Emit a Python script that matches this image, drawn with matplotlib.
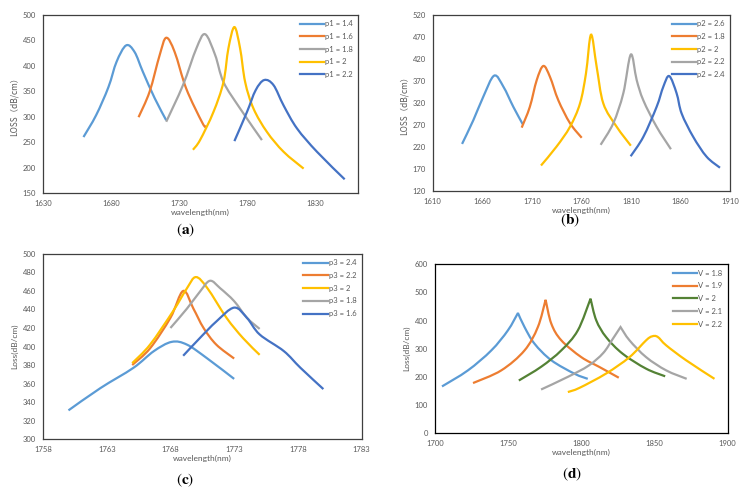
import numpy as np
import matplotlib
matplotlib.use("Agg")
import matplotlib.pyplot as plt
from matplotlib.path import Path
from matplotlib.patches import PathPatch
from matplotlib.lines import Line2D

plt.rcParams['font.family'] = ['Lato', 'Noto Sans CJK SC', 'DejaVu Sans']
plt.rcParams['mathtext.fontset'] = 'stix'

BLUE = "#5B9BD5"
ORANGE = "#ED7D31"
GRAY = "#A5A5A5"
YELLOW = "#FFC000"
DBLUE = "#4472C4"
GREEN = "#548235"

# ---- panel (a): p1 sweep ----
a_labels = ["p1 = 1.4", "p1 = 1.6", "p1 = 1.8", "p1 = 2", "p1 = 2.2"]
a_x = [
    [1659.7, 1669, 1678, 1684, 1691, 1697.2, 1703.3, 1712, 1720.4],
    [1700.1, 1708.2, 1715.6, 1720.4, 1726.6, 1735.1, 1746.9, 1749.6],
    [1720.4, 1732.7, 1742.5, 1748.9, 1756.3, 1762.4, 1774.6, 1790.6],
    [1740, 1745.2, 1755, 1762.4, 1766, 1770.4, 1774.6, 1778.3, 1784.4, 1794.3, 1806.5, 1821.2],
    [1770.4, 1779.6, 1786, 1792.3, 1799.1, 1806.5, 1816.3, 1831, 1851.3],
]
a_y = [
    [260, 303, 358, 408, 440, 427, 388, 336, 293],
    [299, 349, 421, 455, 427, 355, 288, 280],
    [290, 362, 434, 462, 421, 368, 316, 254],
    [235, 254, 309, 368, 434, 476, 434, 368, 316, 270, 231, 198],
    [252, 309, 352, 372, 362, 322, 277, 231, 177],
]

# ---- panel (b): p2 sweep ----
b_labels = ["p2 = 2.6", "p2 = 1.8", "p2 = 2", "p2 = 2.2", "p2 = 2.4"]
b_x = [
    [1639.6, 1651, 1661, 1672, 1681.3, 1691.4, 1700.8],
    [1699.8, 1708, 1715, 1721.7, 1728.4, 1736.8, 1748.6, 1760.4],
    [1719.3, 1735, 1748.6, 1758.7, 1764.7, 1769.8, 1775.5, 1782.2, 1795.7, 1810],
    [1779.5, 1792.3, 1802.4, 1810, 1815.9, 1822.6, 1836, 1850.5],
    [1809.8, 1822.6, 1836, 1842.8, 1848.8, 1856.2, 1861.3, 1873, 1886.5, 1900],
]
b_y = [
    [227, 281, 334, 382, 357, 311, 272],
    [264, 311, 372, 404, 379, 326, 274, 241],
    [178, 221, 266, 319, 387, 475, 402, 319, 266, 223],
    [225, 274, 342, 430, 372, 326, 266, 215],
    [199, 243, 311, 357, 381, 342, 296, 243, 198, 173],
]

# ---- panel (c): p3 sweep ----
c_labels = ["p3 = 2.4", "p3 = 2.2", "p3 = 2", "p3 = 1.8", "p3 = 1.6"]
c_x = [
    [1760, 1762.5, 1765.1, 1766.7, 1768.1, 1769.3, 1770.9, 1773],
    [1765, 1766.4, 1768, 1769, 1769.8, 1770.6, 1771.6, 1773],
    [1765, 1766.4, 1768.2, 1769.3, 1770, 1770.9, 1772.4, 1773.7, 1775],
    [1768, 1769.3, 1770.3, 1771.1, 1771.9, 1773, 1774, 1775],
    [1769, 1770.3, 1771.6, 1773, 1774, 1775, 1776.9, 1778.2, 1780],
]
c_y = [
    [331, 355, 377, 395, 405, 402, 387, 365],
    [380, 398, 431, 460, 441, 420, 402, 387],
    [382, 402, 438, 463, 475, 463, 431, 409, 391],
    [420, 441, 459, 471, 463, 449, 431, 419],
    [390, 409, 427, 442, 431, 413, 395, 377, 354],
]

# ---- panel (d): V sweep ----
d_labels = ["V = 1.8", "V = 1.9", "V = 2", "V = 2.1", "V = 2.2"]
d_x = [
    [1704.8, 1722.5, 1738.5, 1749.8, 1756.7, 1761.2, 1768, 1779.5, 1795.4, 1804.4],
    [1726, 1745.3, 1761.2, 1770.3, 1775.6, 1779.5, 1786.3, 1800, 1812.4, 1825.6],
    [1757.3, 1772.6, 1786.3, 1797.6, 1806.3, 1810.2, 1817, 1828.3, 1844.3, 1857.3],
    [1772.5, 1790.8, 1805, 1815, 1821.5, 1826.8, 1832.9, 1844.3, 1858, 1872],
    [1790.8, 1798.8, 1817, 1832.9, 1844.3, 1848.4, 1852.2, 1858, 1871.6, 1891],
]
d_y = [
    [166, 223, 294, 365, 427, 377, 318, 259, 211, 193],
    [178, 223, 294, 377, 474, 389, 330, 270, 235, 197],
    [187, 236, 294, 365, 478, 401, 341, 282, 229, 202],
    [155, 200, 240, 285, 335, 377, 330, 270, 223, 193],
    [146, 161, 212, 270, 330, 344, 342, 312, 259, 193],
]

fig = plt.figure(figsize=(7.41, 4.95), dpi=100)


def bezier_path(pts):
    """Cubic Bezier segments through the points (Excel-like smoothed line)."""
    n = len(pts)
    verts = [pts[0]]
    codes = [Path.MOVETO]
    for i in range(n - 1):
        p0 = pts[i - 1] if i > 0 else pts[i]
        p1 = pts[i]
        p2 = pts[i + 1]
        p3 = pts[i + 2] if i + 2 < n else pts[i + 1]
        verts += [p1 + (p2 - p0) / 6.0, p2 - (p3 - p1) / 6.0, p2]
        codes += [Path.CURVE4] * 3
    return verts, codes


def smooth_line(ax, x, y, color, lw, cusp=False):
    pts = np.column_stack([x, y]).astype(float)
    if cusp:
        # sharp peak: smooth each flank separately
        k = int(np.argmax(pts[:, 1]))
        v1, c1 = bezier_path(pts[:k + 1])
        v2, c2 = bezier_path(pts[k:])
        verts = v1 + v2[1:]
        codes = c1 + c2[1:]
    else:
        verts, codes = bezier_path(pts)
    ax.add_patch(PathPatch(Path(verts, codes), facecolor='none', edgecolor=color,
                           lw=lw, capstyle='butt', joinstyle='miter'))


def draw_panel(rect, xs, ys, labels, colors, xlim, xticks, ylim, yticks, ylabel,
               ylabel_family=None, frame="#3f3f3f", cusps=None):
    ax = fig.add_axes(rect)
    handles = []
    if cusps is None:
        cusps = [False] * len(xs)
    for x, y, lab, col, cu in zip(xs, ys, labels, colors, cusps):
        smooth_line(ax, x, y, col, 1.6, cusp=cu)
        handles.append(Line2D([], [], color=col, lw=1.6, label=lab))
    ax.set_xlim(*xlim)
    ax.set_ylim(*ylim)
    ax.set_xticks(xticks)
    ax.set_yticks(yticks)
    ax.tick_params(length=0, labelsize=5.5, colors="#595959", pad=5)
    for s in ax.spines.values():
        s.set_color(frame)
        s.set_linewidth(0.9)
    ax.set_xlabel("wavelength(nm)", fontsize=6, color="#595959", labelpad=1)
    kw = {}
    if ylabel_family:
        kw['family'] = ylabel_family
    ax.set_ylabel(ylabel, fontsize=6, color="#595959", labelpad=3, **kw)
    leg = ax.legend(handles=handles, loc='upper right', fontsize=5.5, frameon=False,
                    handlelength=3.2, handletextpad=0.1, labelspacing=0.75,
                    borderaxespad=0.3)
    for t in leg.get_texts():
        t.set_color("#595959")
    return ax


draw_panel([0.058, 0.610, 0.425, 0.360], a_x, a_y, a_labels,
           [BLUE, ORANGE, GRAY, YELLOW, DBLUE],
           (1630, 1861), [1630, 1680, 1730, 1780, 1830],
           (150, 500), np.arange(150, 501, 50),
           "LOSS（dB/cm）", ylabel_family=['Noto Sans CJK SC', 'DejaVu Sans'])

draw_panel([0.584, 0.614, 0.401, 0.356], b_x, b_y, b_labels,
           [BLUE, ORANGE, YELLOW, GRAY, DBLUE],
           (1610, 1910), np.arange(1610, 1911, 50),
           (120, 520), np.arange(120, 521, 50),
           "LOSS（dB/cm）", ylabel_family=['Noto Sans CJK SC', 'DejaVu Sans'])

draw_panel([0.058, 0.113, 0.430, 0.374], c_x, c_y, c_labels,
           [BLUE, ORANGE, YELLOW, GRAY, DBLUE],
           (1758, 1783), np.arange(1758, 1784, 5),
           (300, 500), np.arange(300, 501, 20),
           "Loss(dB/cm)")

draw_panel([0.587, 0.125, 0.395, 0.341], d_x, d_y, d_labels,
           [BLUE, ORANGE, GREEN, GRAY, YELLOW],
           (1700, 1900), np.arange(1700, 1901, 50),
           (0, 600), np.arange(0, 601, 100),
           "Loss(dB/cm)", frame="black", cusps=[True, True, True, True, False])

for x, y, letter in [(0.25, 0.535, 'a'), (0.769, 0.554, 'b'),
                     (0.25, 0.030, 'c'), (0.772, 0.042, 'd')]:
    fig.text(x, y, r'$(\mathbf{%s})$' % letter, fontsize=11, ha='center', va='center')

fig.savefig("out.png", dpi=100)
